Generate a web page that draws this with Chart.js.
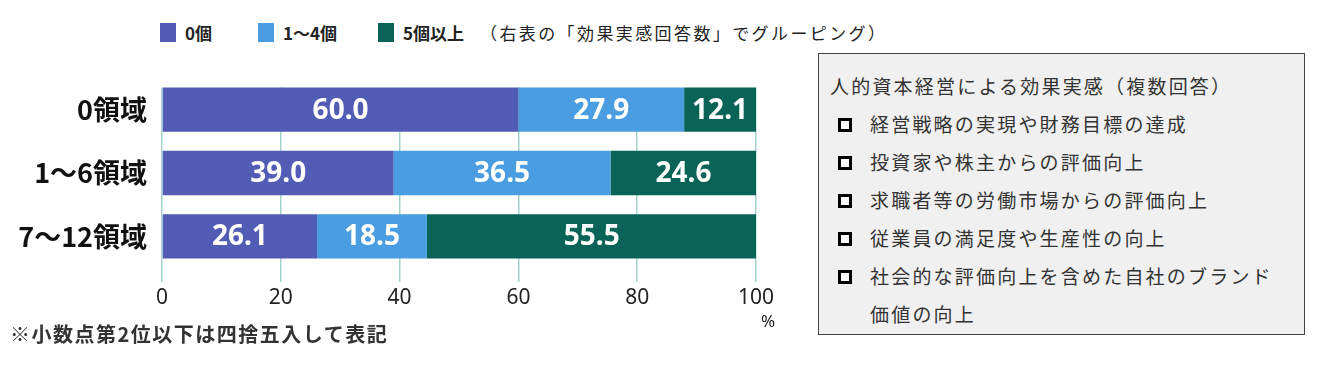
<!DOCTYPE html>
<html lang="ja">
<head>
<meta charset="utf-8">
<script src="https://cdn.jsdelivr.net/npm/chart.js@4/dist/chart.umd.min.js"></script>
<style>
  html, body { margin: 0; padding: 0; background: #fff; }
  body { width: 1322px; height: 366px; position: relative; overflow: hidden;
         font-family: "Noto Sans CJK JP", "Noto Sans", sans-serif; }
  #wrap { position: absolute; left: 0; top: 0; width: 800px; height: 366px; }
  #legend { position: absolute; left: 160px; top: 22px; height: 20px; display: flex;
            align-items: center; font-size: 17px; color: #222; white-space: nowrap; }
  #legend .item { display: flex; align-items: center; font-weight: bold; }
  #legend .sw { width: 16px; height: 19px; margin-right: 9px; }
  #legend .note { letter-spacing: 2.4px; margin-left: 2px; }
  #pct { position: absolute; left: 761px; top: 309px; font-size: 17px; color: #222;
         font-family: "Noto Sans", sans-serif; }
  #foot { position: absolute; left: 10px; top: 319px; font-size: 20px; font-weight: bold;
          letter-spacing: 1.5px; color: #333; white-space: nowrap; }
  #box { position: absolute; left: 818px; top: 53px; width: 485px; height: 280px;
         border: 1px solid #444; background: #f0f0f0; color: #333;
         font-size: 19px; letter-spacing: 2.2px; line-height: 38px; }
  #box .ttl { position: absolute; left: 11px; top: 13px; white-space: nowrap; }
  #box ul { list-style: none; margin: 0; padding: 0; position: absolute; left: 19px; top: 51px; }
  #box li { position: relative; padding-left: 32px; width: 416px; }
  #box li::before { content: ""; position: absolute; left: 0; top: 13px; width: 8px; height: 8px;
                    border: 3px solid #000; background: #fff; }
</style>
</head>
<body>
<div id="legend"></div>
<div id="wrap"><canvas id="chart"></canvas></div>
<div id="pct">%</div>
<div id="foot">※小数点第2位以下は四捨五入して表記</div>
<div id="box">
  <div class="ttl" id="boxTitle"></div>
  <ul id="boxList"></ul>
</div>
<script>
// 区分（縦軸）
const categories = ['0領域', '1～6領域', '7～12領域'];
// 系列名・値（%）
const seriesNames = ['0個', '1～4個', '5個以上'];
const series0 = [60.0, 39.0, 26.1];
const series1 = [27.9, 36.5, 18.5];
const series2 = [12.1, 24.6, 55.5];
const seriesColors = ['#525cb5', '#4a9de0', '#0a6357'];
// 横軸の目盛り
const xTicks = [0, 20, 40, 60, 80, 100];
const legendNote = '（右表の「効果実感回答数」でグルーピング）';
// 右側の表
const boxTitle = '人的資本経営による効果実感（複数回答）';
const boxItems = [
  '経営戦略の実現や財務目標の達成',
  '投資家や株主からの評価向上',
  '求職者等の労働市場からの評価向上',
  '従業員の満足度や生産性の向上',
  '社会的な評価向上を含めた自社のブランド価値の向上',
];

// 凡例（HTML）
const legendWidths = [98, 120, 100];
const legend = document.getElementById('legend');
seriesNames.forEach((name, i) => {
  const item = document.createElement('div');
  item.className = 'item';
  item.style.width = legendWidths[i] + 'px';
  item.innerHTML = `<span class="sw" style="background:${seriesColors[i]}"></span><span>${name}</span>`;
  legend.appendChild(item);
});
const note = document.createElement('span');
note.className = 'note';
note.textContent = legendNote;
legend.appendChild(note);

// 右の表
document.getElementById('boxTitle').textContent = boxTitle;
const list = document.getElementById('boxList');
boxItems.forEach((t) => {
  const li = document.createElement('li');
  li.textContent = t;
  list.appendChild(li);
});

// 1本目の棒より上の目盛り線を隠す
const hideTopGrid = {
  id: 'hideTopGrid',
  beforeDatasetsDraw(chart) {
    const bar = chart.getDatasetMeta(0).data[0];
    if (!bar) return;
    const { ctx, chartArea } = chart;
    const top = bar.y - bar.height / 2;
    ctx.save();
    ctx.fillStyle = '#fff';
    ctx.fillRect(chartArea.left - 2, chartArea.top - 2, chartArea.right - chartArea.left + 4, top - chartArea.top + 2);
    ctx.restore();
  },
};

// 棒の中に値を描く
const barValues = {
  id: 'barValues',
  afterDatasetsDraw(chart) {
    const { ctx } = chart;
    ctx.save();
    ctx.fillStyle = '#fff';
    ctx.font = 'bold 28px "Noto Sans", Roboto, sans-serif';
    ctx.textAlign = 'center';
    ctx.textBaseline = 'middle';
    chart.data.datasets.forEach((ds, di) => {
      chart.getDatasetMeta(di).data.forEach((bar, i) => {
        const x = (bar.x + bar.base) / 2;
        ctx.fillText(ds.data[i].toFixed(1), x, bar.y + 1);
      });
    });
    ctx.restore();
  },
};

const datasets = [series0, series1, series2].map((data, i) => ({
  label: seriesNames[i],
  data,
  backgroundColor: seriesColors[i],
  borderWidth: 0,
  barPercentage: 0.7,
  categoryPercentage: 1,
}));

new Chart(document.getElementById('chart'), {
  type: 'bar',
  data: { labels: categories, datasets },
  plugins: [hideTopGrid, barValues],
  options: {
    indexAxis: 'y',
    responsive: true,
    maintainAspectRatio: false,
    animation: false,
    layout: { padding: { top: 78, right: 44, left: 0, bottom: 0 } },
    plugins: { legend: { display: false }, tooltip: { enabled: false } },
    scales: {
      x: {
        stacked: true,
        min: 0,
        max: 100,
        afterBuildTicks: (s) => { s.ticks = xTicks.map((v) => ({ value: v })); },
        afterFit: (s) => { s.height = 98; },
        border: { display: false },
        grid: { color: '#a3d1cc', lineWidth: 1.5, tickLength: 14, drawTicks: true },
        ticks: {
          padding: 3,
          color: '#222',
          font: { family: '"Noto Sans", sans-serif', size: 21 },
        },
      },
      y: {
        stacked: true,
        afterFit: (s) => { s.width = 162; },
        border: { display: false },
        grid: { display: false, drawTicks: false },
        ticks: {
          padding: 15,
          color: '#111',
          font: { family: '"Noto Sans CJK JP", sans-serif', size: 27, weight: 'bold' },
        },
      },
    },
  },
});
</script>
</body>
</html>
